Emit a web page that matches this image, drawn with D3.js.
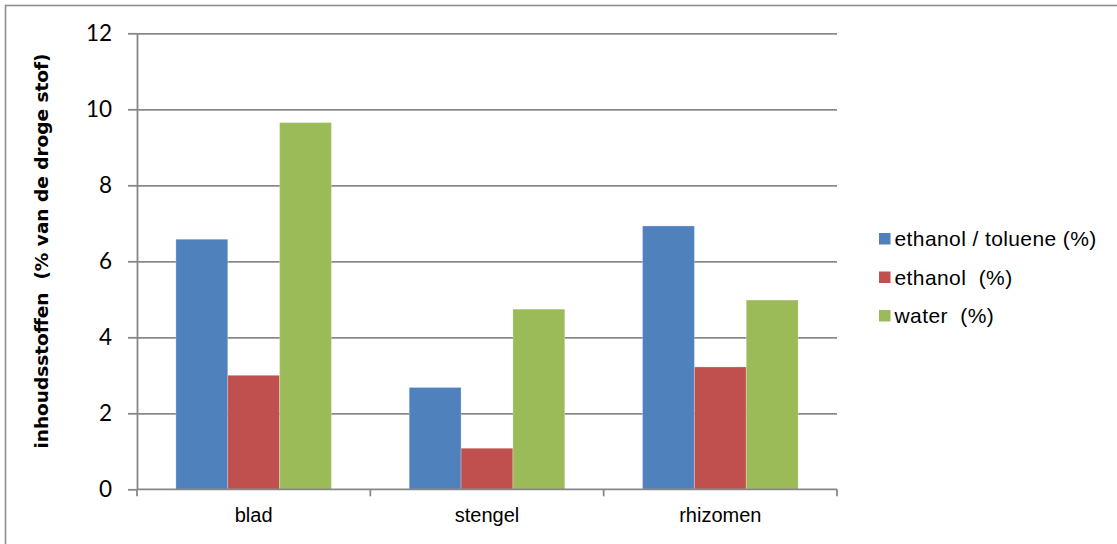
<!DOCTYPE html>
<html>
<head>
<meta charset="utf-8">
<script src="https://cdn.jsdelivr.net/npm/d3@7"></script>
<style>
  html, body { margin: 0; padding: 0; background: #ffffff; }
  svg { display: block; }
</style>
</head>
<body>
<svg id="chart" width="1117" height="544"></svg>
<script>
// Plant parts and extract yields (% of dry matter)
const categories = ["blad", "stengel", "rhizomen"];
const seriesNames = ["ethanol / toluene (%)", "ethanol  (%)", "water  (%)"];
const ethanolToluene = [6.58, 2.68, 6.93];
const ethanol = [3.0, 1.08, 3.22];
const water = [9.65, 4.74, 4.98];
const yTicks = [0, 2, 4, 6, 8, 10, 12];
const seriesColors = ["#4F81BD", "#C0504D", "#9BBB59"];
const yTitle = "inhoudsstoffen  (% van de droge stof)";

const seriesValues = [ethanolToluene, ethanol, water];
const rows = categories.map((c, i) => ({
  category: c,
  values: seriesValues.map((vals, s) => ({ series: s, value: vals[i] }))
}));

const svg = d3.select("#chart");
const plot = { left: 137, right: 837, top: 33.3, bottom: 489.3 };

// Outer frame
svg.append("rect")
  .attr("x", 5.5).attr("y", 5.5)
  .attr("width", 1130).attr("height", 560)
  .attr("fill", "none")
  .attr("stroke", "#8e8e8e")
  .attr("stroke-width", 1.6);

const y = d3.scaleLinear().domain([0, 12]).range([plot.bottom, plot.top]);
const x0 = d3.scaleBand()
  .domain(categories)
  .range([plot.left, plot.right])
  .paddingInner(1 / 3)
  .paddingOuter(1 / 6);
const x1 = d3.scaleBand()
  .domain(d3.range(seriesNames.length))
  .range([0, x0.bandwidth()])
  .padding(0);

// Horizontal gridlines
const grid = svg.append("g")
  .attr("transform", `translate(${plot.left},0)`)
  .call(d3.axisLeft(y).tickValues(yTicks.slice(1)).tickSize(-(plot.right - plot.left)).tickFormat(""));
grid.select(".domain").remove();
grid.selectAll(".tick line").attr("stroke", "#8a8a8a").attr("stroke-width", 1.8);

// Bars
const groups = svg.append("g").selectAll("g")
  .data(rows)
  .join("g")
  .attr("transform", d => `translate(${x0(d.category)},0)`);

groups.selectAll("rect")
  .data(d => d.values)
  .join("rect")
  .attr("x", d => x1(d.series))
  .attr("width", x1.bandwidth())
  .attr("y", d => y(d.value))
  .attr("height", d => y(0) - y(d.value))
  .attr("fill", d => seriesColors[d.series])
  .attr("stroke", "rgba(255,255,255,0.25)")
  .attr("stroke-width", 1);

// Y axis with tick labels
const yAxis = svg.append("g")
  .attr("transform", `translate(${plot.left},0)`)
  .call(d3.axisLeft(y).tickValues(yTicks).tickSize(9).tickSizeOuter(0).tickPadding(16));
yAxis.select(".domain").attr("stroke", "#878787").attr("stroke-width", 1.8);
yAxis.selectAll(".tick line").attr("stroke", "#878787").attr("stroke-width", 1.8);
yAxis.selectAll(".tick text")
  .attr("font-family", "Lato, 'Open Sans', sans-serif")
  .attr("font-size", 22.5)
  .attr("fill", "#000");

// X axis line with tick marks between categories
svg.append("line")
  .attr("x1", plot.left).attr("x2", plot.right)
  .attr("y1", y(0)).attr("y2", y(0))
  .attr("stroke", "#878787").attr("stroke-width", 1.8);

const boundaries = [x0.range()[0]].concat(categories.map(c => x0(c) + x0.bandwidth() + x0.step() * x0.paddingInner() / 2));
svg.append("g").selectAll("line")
  .data(boundaries)
  .join("line")
  .attr("x1", d => d).attr("x2", d => d)
  .attr("y1", y(0)).attr("y2", y(0) + 7)
  .attr("stroke", "#878787").attr("stroke-width", 1.8);

// Category labels
svg.append("g").selectAll("text")
  .data(categories)
  .join("text")
  .attr("x", d => x0(d) + x0.bandwidth() / 2)
  .attr("y", 521.7)
  .attr("text-anchor", "middle")
  .attr("font-family", "'Liberation Sans', Arial, sans-serif")
  .attr("font-size", 20)
  .attr("fill", "#000")
  .text(d => d);

// Y axis title
svg.append("text")
  .attr("transform", "translate(48,251) rotate(-90)")
  .attr("text-anchor", "middle")
  .attr("font-family", "'DejaVu Sans', Verdana, sans-serif")
  .attr("font-weight", "bold")
  .attr("font-size", 18.5)
  .attr("fill", "#000")
  .style("white-space", "pre")
  .text(yTitle);

// Legend
const legend = svg.append("g").selectAll("g")
  .data(seriesNames)
  .join("g")
  .attr("transform", (d, i) => `translate(879,${239 + i * 38.5})`);
legend.append("rect")
  .attr("x", 0).attr("y", -6)
  .attr("width", 11.5).attr("height", 11.5)
  .attr("fill", (d, i) => seriesColors[i]);
legend.append("text")
  .attr("x", 15.5)
  .attr("y", 0)
  .attr("dy", "0.35em")
  .attr("font-family", "'Liberation Sans', Arial, sans-serif")
  .attr("font-size", 21)
  .attr("letter-spacing", 0.4)
  .attr("fill", "#000")
  .style("white-space", "pre")
  .text(d => d);
</script>
</body>
</html>
